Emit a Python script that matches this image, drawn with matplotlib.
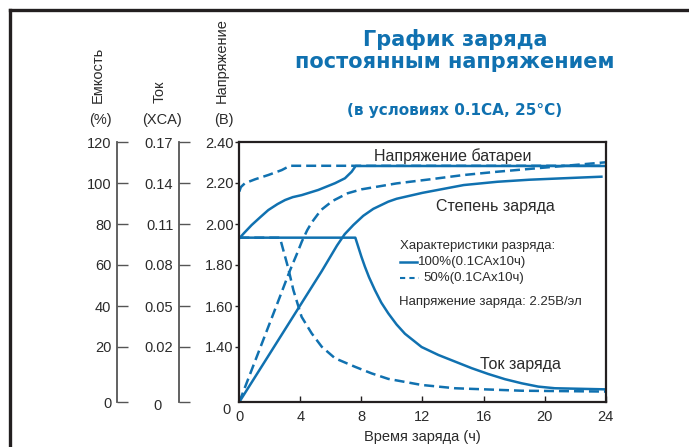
import numpy as np
import matplotlib.pyplot as plt
from matplotlib.lines import Line2D

plt.rcParams['font.family'] = ['Liberation Sans', 'DejaVu Sans']

# ---- data ----
# time axis (h)
x_ticks = [0, 4, 8, 12, 16, 20, 24]

# battery voltage (V)
t_volt_100 = [0, 0.3, 0.81, 1.4, 1.9, 2.5, 3.0, 3.5, 4.09, 5.17, 6.27, 6.92, 7.36, 7.62, 24]
volt_100 = [1.93, 1.955, 1.995, 2.035, 2.068, 2.097, 2.117, 2.131, 2.141, 2.166, 2.199, 2.223, 2.255, 2.283, 2.283]
t_volt_50 = [0, 0.1, 0.37, 1.03, 1.9, 2.78, 3.32, 24]
volt_50 = [2.158, 2.18, 2.199, 2.218, 2.239, 2.263, 2.284, 2.284]

# state of charge (%)
t_cap_100 = [0, 2.27, 3.86, 5.4, 6.4, 6.9, 7.47, 8.12, 8.78, 9.76, 10.3, 12.0, 14.7, 16.9, 19.0, 21.2, 23.8]
cap_100 = [0, 20, 38.8, 57.0, 69.5, 75.0, 79.5, 84.0, 87.4, 90.9, 92.3, 95.2, 99.0, 100.6, 101.6, 102.3, 103.1]
t_cap_50 = [0, 1.39, 2.5, 3.3, 3.75, 4.1, 4.45, 4.75, 5.35, 6.1, 7.1, 8.0, 10.3, 12.5, 14.7, 16.9, 21.2, 24]
cap_50 = [0, 20, 41.4, 57.0, 65.0, 71.5, 77.0, 80.8, 86.8, 91.2, 95.0, 96.9, 99.8, 101.8, 103.9, 105.5, 108.3, 110.1]

# charge current (CA)
t_cur_100 = [0, 7.6, 7.8, 8.0, 8.23, 8.5, 8.88, 9.3, 9.76, 10.3, 10.85, 11.94, 13.04, 14.13, 15.22, 16.3,
             17.4, 18.5, 19.58, 20.67, 24]
cur_100 = [0.1, 0.1, 0.093, 0.086, 0.0787, 0.071, 0.0617, 0.0525, 0.0446, 0.0365, 0.0297, 0.0200, 0.0171,
           0.0147, 0.0123, 0.0102, 0.0083, 0.0068, 0.0056, 0.0050, 0.0046]
t_cur_50 = [0, 2.66, 2.88, 3.21, 3.54, 4.08, 4.74, 5.4, 6.27, 7.58, 8.67, 9.76, 11.94, 14.13, 18.5, 24]
cur_50 = [0.1, 0.1, 0.091, 0.0775, 0.0617, 0.0421, 0.030, 0.0202, 0.0159, 0.0128, 0.0104, 0.0084,
          0.0062, 0.0050, 0.0041, 0.0038]

cap_ticks = [0, 20, 40, 60, 80, 100, 120]
cap_labels = ['0', '20', '40', '60', '80', '100', '120']
cur_labels = ['', '0.02', '0.05', '0.08', '0.11', '0.14', '0.17']
volt_ticks = [1.40, 1.60, 1.80, 2.00, 2.20, 2.40]
volt_labels = ['1.40', '1.60', '1.80', '2.00', '2.20', '2.40']

BLUE = '#1071b0'
DARK = '#231f20'
TXT = '#2b2b2b'

# the three y scales share one frame; below 20 % the scale is compressed
K = 55 / 20 / 2.05


def cap_y(c):
    c = np.asarray(c, dtype=float)
    return np.where(c < 20, c * K, c - 20 + 20 * K)


def volt_y(v):
    return cap_y(20 + (np.asarray(v) - 1.40) * 100)


def cur_y(i):
    i = np.asarray(i, dtype=float)
    return cap_y(np.where(i < 0.02, i * 1000, 20 + (i - 0.02) / 0.0015))


fig = plt.figure(figsize=(6.89, 4.47), dpi=100)
ax = fig.add_axes([239.3 / 689, 1 - 402 / 447, 366.4 / 689, 260 / 447])

lw = 1.8
dash = (0, (4, 2))
ax.plot(t_cap_100, cap_y(cap_100), color=BLUE, lw=lw, solid_capstyle='butt')
ax.plot(t_cap_50, cap_y(cap_50), color=BLUE, lw=lw, linestyle=dash)
ax.plot(t_cur_50, cur_y(cur_50), color=BLUE, lw=lw, linestyle=dash)
ax.plot(t_cur_100, cur_y(cur_100), color=BLUE, lw=lw)
ax.plot(t_volt_50, volt_y(volt_50), color=BLUE, lw=lw, linestyle=dash)
ax.plot(t_volt_100, volt_y(volt_100), color=BLUE, lw=lw)

ax.set_xlim(0, 24)
ax.set_ylim(0, float(cap_y(120)))
for s in ax.spines.values():
    s.set_color(DARK)
    s.set_linewidth(1.6)

ax.set_xticks(x_ticks)
ax.set_xticklabels([str(v) for v in x_ticks])
ax.tick_params(axis='x', direction='in', length=4, width=1, color=DARK,
               labelsize=10.5, labelcolor=TXT, pad=6)
ax.set_yticks(volt_y(volt_ticks))
ax.set_yticklabels(volt_labels)
ax.tick_params(axis='y', direction='out', length=3, width=1, color=DARK,
               labelsize=10.5, labelcolor=TXT, pad=1)
ax.text(-0.035, -0.03, '0', transform=ax.transAxes, fontsize=10.5, color=TXT,
        ha='center', va='center')
ax.set_xlabel('Время заряда (ч)', fontsize=10.5, color=TXT, labelpad=4)

# capacity and current axes
for loc, labels, extra in [(-0.334, cap_labels, None), (-0.165, cur_labels, '0')]:
    sec = ax.secondary_yaxis(loc)
    sec.spines['left'].set_color('#555555')
    sec.spines['left'].set_linewidth(1.3)
    sec.set_yticks(cap_y(cap_ticks))
    sec.set_yticklabels(labels)
    sec.tick_params(axis='y', direction='in', length=8, width=1, color='#555555',
                    labelsize=10.5, labelcolor=TXT, pad=4)
    if extra:
        ax.text(loc - 0.057, -0.015, extra, transform=ax.transAxes, fontsize=10.5,
                color=TXT, ha='center', va='center')

# axis titles
for xp, name, unit in [(98, 'Емкость', '(%)'), (160, 'Ток', '(XCA)'), (222, 'Напряжение', '(В)')]:
    fig.text(xp / 689, 1 - 103 / 447, name, rotation=90, ha='center', va='bottom',
             fontsize=10.5, color=TXT)
    fig.text((xp + 2) / 689, 1 - 120 / 447, unit, ha='center', va='center',
             fontsize=10.5, color=TXT)

# titles
fig.text(455 / 689, 1 - 39 / 447, 'График заряда', ha='center', va='center',
         fontsize=15, fontweight='bold', color=BLUE, family='DejaVu Sans')
fig.text(455 / 689, 1 - 62 / 447, 'постоянным напряжением', ha='center', va='center',
         fontsize=15, fontweight='bold', color=BLUE, family='DejaVu Sans')
fig.text(455 / 689, 1 - 110 / 447, '(в условиях 0.1CA, 25°C)', ha='center', va='center',
         fontsize=11, fontweight='bold', color=BLUE, family='DejaVu Sans')

# annotations inside the plot
def px(x, y):
    return ((x - 239.3) / 366.4, (402 - y) / 260)


ax.text(*px(374, 156), 'Напряжение батареи', transform=ax.transAxes, fontsize=11.5,
        color=TXT, va='center')
ax.text(*px(436, 206), 'Степень заряда', transform=ax.transAxes, fontsize=11.5,
        color=TXT, va='center')
ax.text(*px(480, 365), 'Ток заряда', transform=ax.transAxes, fontsize=11.5,
        color=TXT, va='center')
ax.text(*px(400, 245.5), 'Характеристики разряда:', transform=ax.transAxes, fontsize=9.5,
        color=TXT, va='center')
ax.text(*px(418, 261.5), '100%(0.1CAx10ч)', transform=ax.transAxes, fontsize=9.5,
        color=TXT, va='center')
ax.text(*px(423, 278), '50%(0.1CAx10ч)', transform=ax.transAxes, fontsize=9.5,
        color=TXT, va='center')
ax.text(*px(399, 302), 'Напряжение заряда: 2.25В/эл', transform=ax.transAxes, fontsize=9.5,
        color=TXT, va='center')
x0, y0 = px(400, 261.5)
x1, _ = px(417, 261.5)
ax.add_line(Line2D([x0, x1], [y0, y0], transform=ax.transAxes, color=BLUE, lw=lw))
x0, y0 = px(400, 278)
x1, _ = px(419, 278)
ax.add_line(Line2D([x0, x1], [y0, y0], transform=ax.transAxes, color=BLUE, lw=1.5,
                   linestyle=(0, (2.5, 2))))

# outer frame (left and top edges)
fig.add_artist(Line2D([10 / 689, 10 / 689], [0, 1 - 9.5 / 447], transform=fig.transFigure,
                      color=DARK, lw=2.4, solid_capstyle='projecting'))
fig.add_artist(Line2D([10 / 689, 1], [1 - 9.5 / 447, 1 - 9.5 / 447], transform=fig.transFigure,
                      color=DARK, lw=2.4, solid_capstyle='projecting'))

fig.savefig('out.png', dpi=100)
